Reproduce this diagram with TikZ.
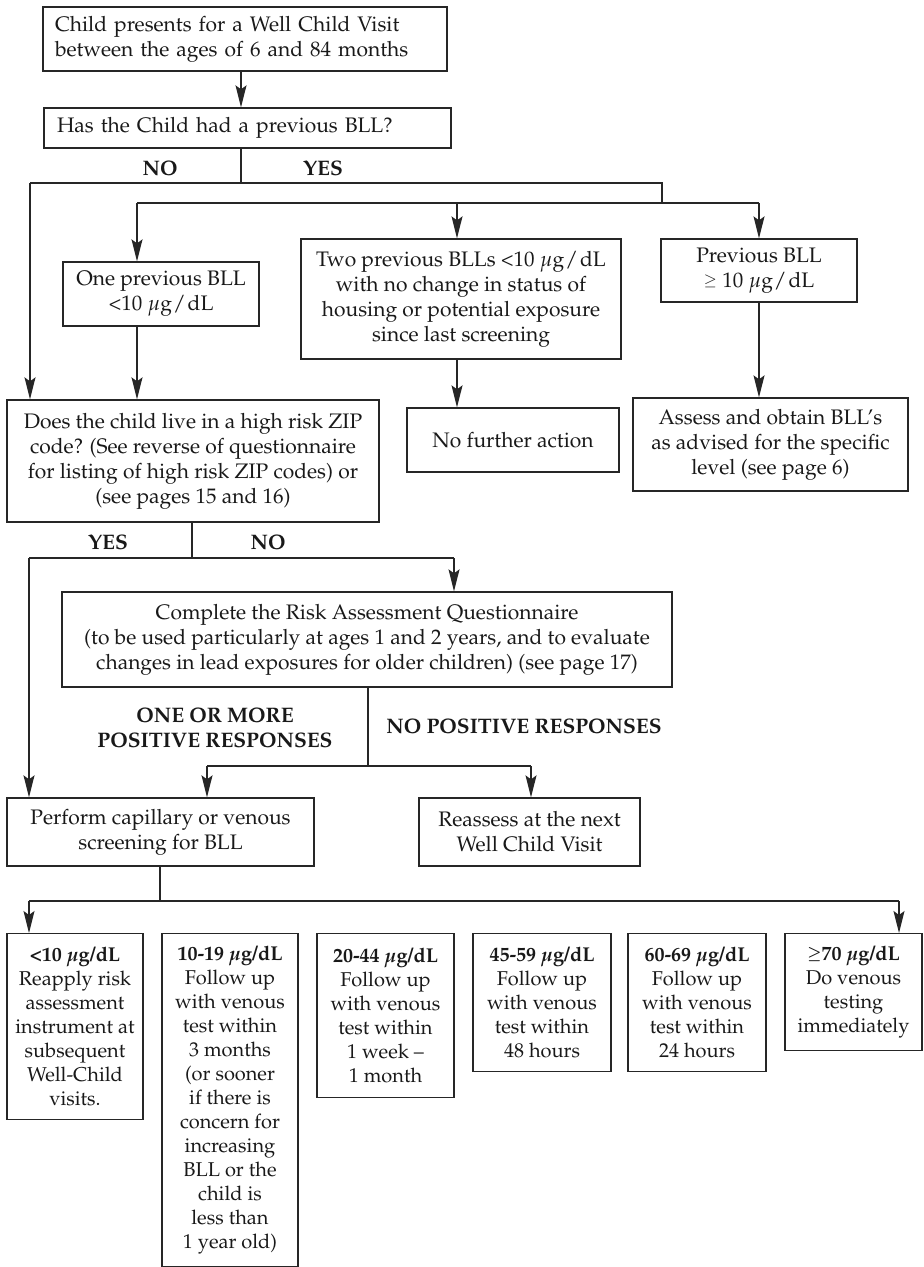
\documentclass[tikz,border=0pt]{standalone}
\usepackage[T1]{fontenc}
\usepackage{mathpazo}
\usetikzlibrary{arrows.meta}
\newcommand{\ugdl}{$\mu$g\kern0.5pt/\kern1pt dL}
\newcommand{\smgeq}{\raisebox{0.2ex}{$\scriptstyle\geq$}}
\begin{document}
\begin{tikzpicture}[x=0.5pt,y=-0.5pt,
  line/.style={draw=black!85, line width=0.65pt},
  arr/.style={line, -{Stealth[length=11pt,width=5.5pt,inset=2pt]}},
  box/.style={draw=black!85, line width=0.65pt, inner sep=0pt, align=center,
    font=\fontsize{10.5}{12.5}\selectfont, text=black!90},
  lvl/.style={box, anchor=north, font=\fontsize{10}{12}\selectfont},
  lab/.style={font=\fontsize{10.5}{12.5}\selectfont\bfseries, text=black!90, align=center, inner sep=0pt}]
\useasboundingbox[fill=white] (0,0) rectangle (924,1267);

% ---- boxes ----
\node[box, minimum width=202pt, minimum height=32pt, text width=190pt, align=left] (n1) at (245,39)
  {Child presents for a Well Child Visit\\between the ages of 6 and 84 months};
\node[box, minimum width=203.5pt, minimum height=20pt, text width=190.5pt, align=left] (n2) at (247.5,128)
  {Has the Child had a previous BLL?};
\node[box, minimum width=98pt, minimum height=32pt] (n3) at (161,294)
  {One previous BLL\\<10 \ugdl};
\node[box, minimum width=160pt, minimum height=60pt] (n4) at (461,299)
  {Two previous BLLs <10 \ugdl\\with no change in status of\\housing or potential exposure\\since last screening};
\node[box, minimum width=98pt, minimum height=31.5pt] (n6) at (759,270.5)
  {Previous BLL\\\smgeq\ 10 \ugdl};
\node[box, minimum width=186pt, minimum height=61pt] (n5) at (193,461)
  {Does the child live in a high risk ZIP\\code? (See reverse of questionnaire\\for listing of high risk ZIP codes) or\\(see pages 15 and 16)};
\node[box, minimum width=106pt, minimum height=32pt] (n8) at (513,440)
  {No further action};
\node[box, minimum width=137.5pt, minimum height=46.5pt] (n7) at (770.5,444.5)
  {Assess and obtain BLL's\\as advised for the specific\\level (see page 6)};
\node[box, minimum width=305pt, minimum height=47.5pt] (n9) at (367,639.5)
  {Complete the Risk Assessment Questionnaire\\(to be used particularly at ages 1 and 2 years, and to evaluate\\changes in lead exposures for older children) (see page 17)};
\node[box, minimum width=153.5pt, minimum height=34pt] (n10) at (160.5,832)
  {Perform capillary or venous\\screening for BLL};
\node[box, minimum width=110.5pt, minimum height=34pt] (n11) at (529.5,832)
  {Reassess at the next\\Well Child Visit};

% ---- level boxes ----
\node[lvl, minimum width=68pt, minimum height=93pt] (b1) at (75,933)
  {\textbf{<10 {\boldmath$\mu$}g/dL}\\Reapply risk\\assessment\\instrument at\\subsequent\\Well-Child\\visits.};
\node[lvl, minimum width=68pt, minimum height=166.5pt] (b2) at (230,933)
  {\textbf{10-19 {\boldmath$\mu$}g/dL}\\Follow up\\with venous\\test within\\3 months\\(or sooner\\if there is\\concern for\\increasing\\BLL or the\\child is\\less than\\1 year old)};
\node[lvl, minimum width=68.5pt, minimum height=82pt] (b3) at (385.5,933)
  {\textbf{20-44 {\boldmath$\mu$}g/dL}\\Follow up\\with venous\\test within\\1 week --\\1 month};
\node[lvl, minimum width=69pt, minimum height=69pt] (b4) at (542,933)
  {\textbf{45-59 {\boldmath$\mu$}g/dL}\\Follow up\\with venous\\test within\\48 hours};
\node[lvl, minimum width=69pt, minimum height=69pt] (b5) at (697,933)
  {\textbf{60-69 {\boldmath$\mu$}g/dL}\\Follow up\\with venous\\test within\\24 hours};
\node[lvl, minimum width=68.5pt, minimum height=58.5pt] (b6) at (853.5,933)
  {\textbf{{\boldmath\smgeq}70 {\boldmath$\mu$}g/dL}\\Do venous\\testing\\immediately};

% ---- labels ----
\node[lab] (l1) at (160,168) {NO};
\node[lab] (l2) at (323,168) {YES};
\node[lab] (l3) at (108,542) {YES};
\node[lab] (l4) at (268,542) {NO};
\node[lab] (l5) at (215,727.5) {ONE OR MORE\\POSITIVE RESPONSES};
\node[lab] (l6) at (524,726) {NO POSITIVE RESPONSES};

% ---- junction coordinates ----
\coordinate (j0) at (241,90);
\coordinate (j1) at (241,183);
\coordinate (j1L) at (30,183);
\coordinate (j1R) at (662,183);
\coordinate (j2) at (662,203);
\coordinate (j2L) at (137,203);
\coordinate (j2M) at (457,203);
\coordinate (j2R) at (759,203);
\coordinate (j3) at (192,558);
\coordinate (j3L) at (29,558);
\coordinate (j3R) at (454,558);
\coordinate (j4) at (368,766);
\coordinate (j4L) at (207,766);
\coordinate (j4R) at (531,766);
\coordinate (j5) at (160,901);
\coordinate (j5L) at (29,901);
\coordinate (j5R) at (899,901);

% ---- connectors ----
\draw[arr] (n1.south -| j0) -- (n2.north -| j0);
\draw[line] (n2.south -| j1) -- (j1);
\draw[line] (j1L) -- (j1R) -- (j2);
\draw[arr] (j1L) -- (j1L |- n5.north);
\draw[line] (j2L) -- (j2R);
\draw[arr] (j2L) -- (j2L |- n3.north);
\draw[arr] (j2M) -- (j2M |- n4.north);
\draw[arr] (j2R) -- (j2R |- n6.north);
\draw[arr] (n3.south -| j2L) -- (j2L |- n5.north);
\draw[arr] (n4.south -| j2M) -- (j2M |- n8.north);
\draw[arr] (n6.south -| j2R) -- (j2R |- n7.north);

\draw[line] (n5.south -| j3) -- (j3);
\draw[line] (j3L) -- (j3R);
\draw[arr] (j3L) -- (j3L |- n10.north);
\draw[arr] (j3R) -- (j3R |- n9.north);

\draw[line] (n9.south -| j4) -- (j4);
\draw[line] (j4L) -- (j4R);
\draw[arr] (j4L) -- (j4L |- n10.north);
\draw[arr] (j4R) -- (j4R |- n11.north);

\draw[line] (n10.south -| j5) -- (j5);
\draw[line] (j5L) -- (j5R);
\draw[arr] (j5L) -- (j5L |- b1.north);
\draw[arr] (j5R) -- (j5R |- b6.north);
\end{tikzpicture}
\end{document}
